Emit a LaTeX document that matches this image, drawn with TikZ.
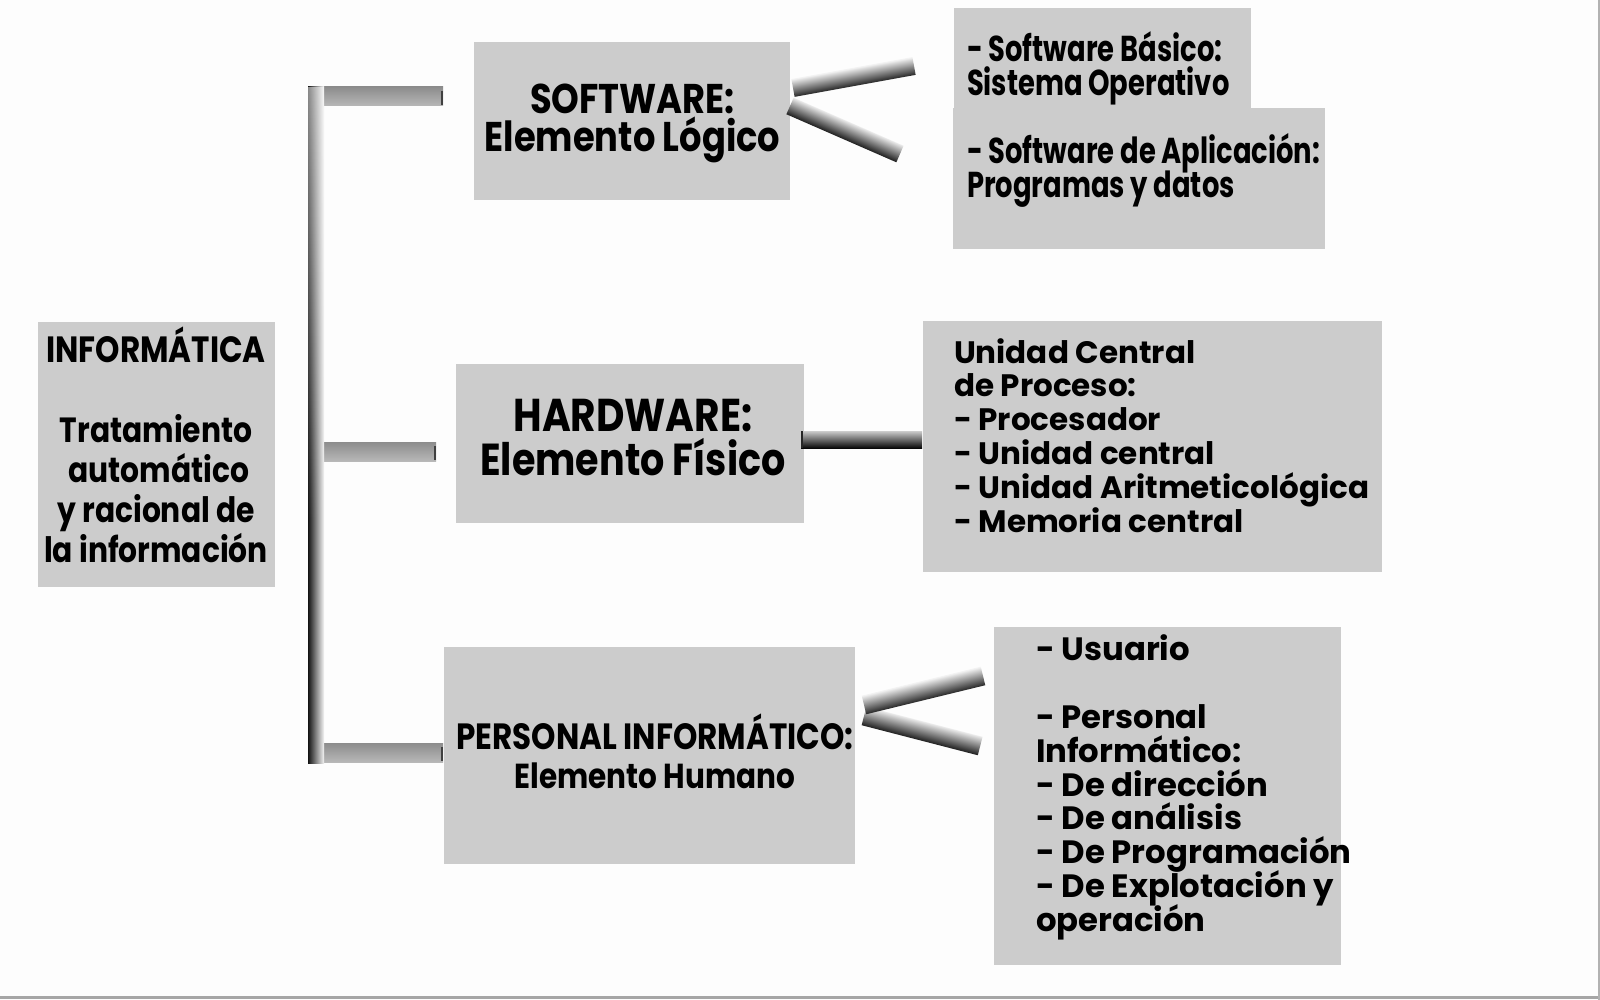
\documentclass[tikz,border=0pt]{standalone}
\usepackage{fontspec}
\setmainfont{Poppins}
\newfontfamily\fnarrow{Poppins}[FakeStretch=0.85]
\newfontfamily\fcond{Poppins}[FakeStretch=0.76]
\usetikzlibrary{fadings}
\definecolor{boxgray}{HTML}{CCCCCC}
\definecolor{bgcol}{HTML}{FDFDFD}
\newcommand{\fl}{\rule{0pt}{1.2em}}
\newcommand{\tight}{\lineskiplimit=-1000pt\lineskip=0pt}
\newcommand{\fsz}[1]{\fontsize{#1}{40}\selectfont}
% tilted shaded bar: start coordinate, angle, length, thickness, top colour, bottom colour
\newcommand{\tbar}[6]{%
  \begin{scope}[transform canvas={shift={(#1)},rotate=#2}]
    \shade[top color=#5,bottom color=#6] (0,-#4/2) rectangle (#3,#4/2);
  \end{scope}}
\begin{document}
\begin{tikzpicture}[x=1pt,y=-1pt,
  box/.style={rectangle, fill=boxgray, draw=none, anchor=north west, inner sep=0pt, outer sep=0pt},
  txt/.style={inner sep=0pt, outer sep=0pt, text=black},
  armshade/.style={top color=black!45, middle color=black!62, bottom color=black!28}]
\useasboundingbox (0,0) rectangle (1600,1000);
\fill[bgcol] (0,0) rectangle (1600,1000);
\draw[black!35, line width=3pt] (0,997.5) -- (1600,997.5);
\draw[black!30, line width=2pt] (1598.5,0) -- (1598.5,1000);

% boxes
\node[box, minimum width=237pt, minimum height=265pt] (info) at (38,322) {};
\node[box, minimum width=316pt, minimum height=158pt] (sw) at (474,42) {};
\node[box, minimum width=297pt, minimum height=100pt] (sb) at (954,8) {};
\node[box, minimum width=372pt, minimum height=141pt] (sa) at (953,108) {};
\node[box, minimum width=348pt, minimum height=159pt] (hw) at (456,364) {};
\node[box, minimum width=459pt, minimum height=251pt] (un) at (923,321) {};
\node[box, minimum width=411pt, minimum height=217pt] (pe) at (444,647) {};
\node[box, minimum width=347pt, minimum height=338pt] (us) at (994,627) {};

% bracket
\coordinate (brTop) at (308,87);
\coordinate (brBot) at (324,763);
\shade[armshade] (316,87) rectangle (443,106);
\shade[armshade] (316,442) rectangle (436,461);
\shade[armshade] (316,743) rectangle (443,762);
\draw[black!75, line width=2pt] (442,91) -- (442,105);
\draw[black!75, line width=2pt] (435,446) -- (435,460);
\draw[black!75, line width=2pt] (442,747) -- (442,761);
\shade[left color=black!92, middle color=black!55, right color=black!4] (brTop) rectangle (brBot);
\fill[white, fill opacity=0.5, path fading=south] (308,87) rectangle (324,520);

% connectors
\coordinate (swU) at (793,88);
\coordinate (swL) at (790,106);
\coordinate (hwB) at (801,439.5);
\coordinate (peU) at (864,705);
\coordinate (peL) at (864,716);
\tbar{swL}{-23.6}{120}{18}{black!8}{black!88}
\tbar{swU}{10.3}{123}{18}{black!5}{black!85}
\tbar{hwB}{0}{121}{17}{black!20}{black!97}
\draw[black!85, line width=2pt] (802,431) -- (802,448);
\tbar{peL}{-14.5}{120}{19}{black!8}{black!88}
\tbar{peU}{13.7}{122.5}{19}{black!5}{black!85}

% texts
\node[txt, anchor=north, align=center, font=\fnarrow\bfseries\fontsize{36.5}{40}\selectfont\tight] (infoT) at (156,318.2)
  {\fl INFORMÁTICA\\[40pt]{\fsz{35}Tratamiento\hspace*{10pt}}\\{\fsz{35}\hspace*{6pt}automático}\\{\fsz{35}y racional de\hspace*{12pt}}\\{\fsz{35}la información}};
\node[txt, anchor=north, align=center, font=\fnarrow\bfseries\fontsize{41.5}{38.5}\selectfont\tight] (swT) at (632.5,63.7)
  {\fl SOFTWARE:\\Elemento Lógico};
\node[txt, anchor=north, align=center, font=\fnarrow\bfseries\fontsize{46}{44}\selectfont\tight] (hwT) at (633,375.8)
  {\fl HARDWARE:\\{\fontsize{44.8}{44}\selectfont Elemento Físico}};
\node[txt, anchor=north, align=center, font=\fnarrow\bfseries\fontsize{36.5}{39}\selectfont\tight] (peT) at (655,705.2)
  {\fl PERSONAL INFORMÁTICO:\\{\fontsize{34.7}{39}\selectfont Elemento Humano}};
\node[txt, anchor=north west, align=left, font=\fcond\bfseries\fontsize{36}{34}\selectfont\tight] (sbT) at (967,18.8)
  {\fl - Software Básico:\\Sistema Operativo};
\node[txt, anchor=north west, align=left, font=\fcond\bfseries\fontsize{36}{34}\selectfont\tight] (saT) at (967,120.8)
  {\fl - Software de Aplicación:\\Programas y datos};
\node[txt, anchor=north west, align=left, font=\bfseries\fontsize{31}{33.8}\selectfont\tight] (unT) at (954,325.8)
  {\fl Unidad Central\\de Proceso:\\- Procesador\\- Unidad central\\- Unidad Aritmeticológica\\- Memoria central};
\node[txt, anchor=north west, align=left, font=\bfseries\fontsize{32.3}{33.8}\selectfont\tight] (usT) at (1036,622.2)
  {\fl - Usuario\\[33.8pt]- Personal\\Informático:\\- De dirección\\- De análisis\\- De Programación\\- De Explotación y\\operación};
\end{tikzpicture}
\end{document}
